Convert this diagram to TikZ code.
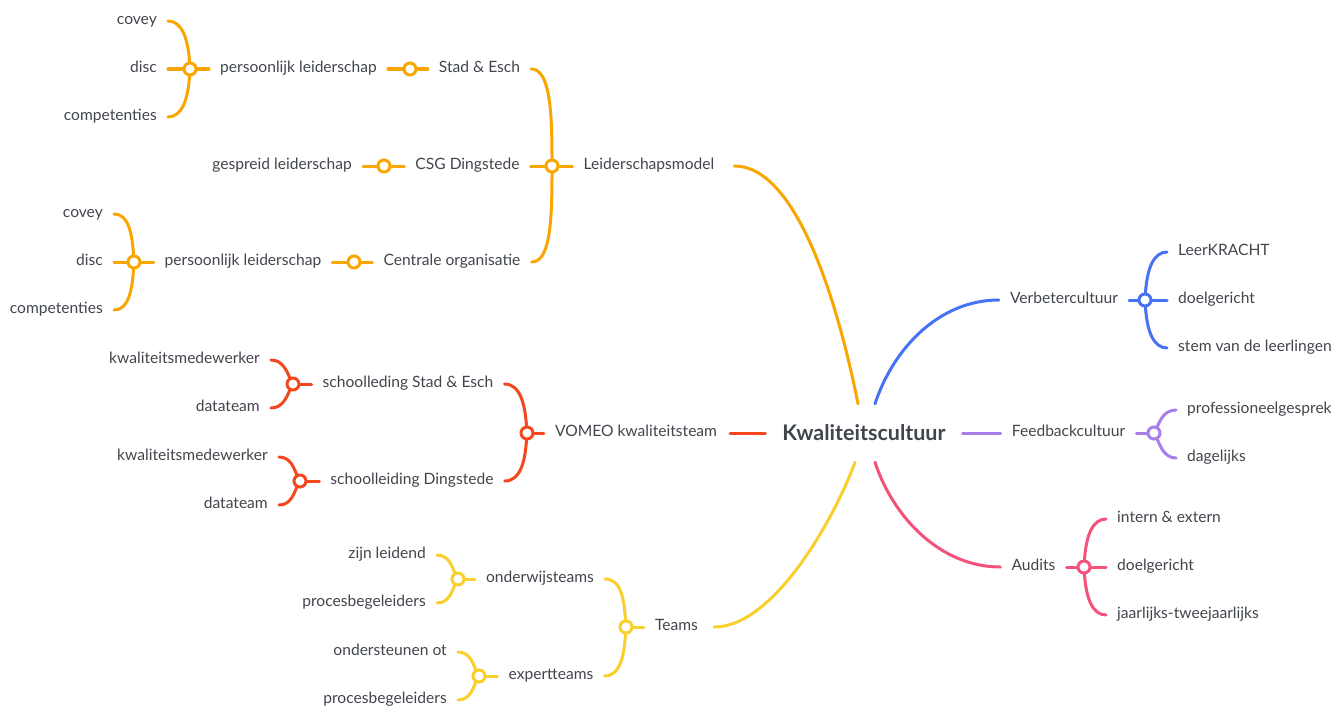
\documentclass[tikz,border=0pt]{standalone}
\usepackage{fontspec}
\setmainfont{Lato}
\definecolor{txtc}{HTML}{41464D}
\definecolor{cor}{HTML}{FAA602}
\definecolor{cred}{HTML}{F5471E}
\definecolor{cyel}{HTML}{F9CF2E}
\definecolor{cblu}{HTML}{4672F5}
\definecolor{cpur}{HTML}{A77EEB}
\definecolor{cpnk}{HTML}{F4527B}
\tikzset{
  txt/.style={text=txtc, font=\fontsize{15.6}{17}\selectfont, inner xsep=11pt, inner ysep=0pt, text height=10.5pt, text depth=3pt},
  rootnode/.style={text=txtc, font=\fontsize{21.5}{23}\bfseries\selectfont, minimum width=197pt, minimum height=58pt, inner sep=0pt},
  jc/.style={circle, draw=#1, fill=white, line width=3pt, minimum size=12pt, inner sep=0pt},
  ln/.style={draw=#1, line width=3pt, line cap=round},
}
\begin{document}
\begin{tikzpicture}[x=1pt,y=-1pt]
\useasboundingbox[fill=white] (0,0) rectangle (1335,709);
% root
\node[rootnode] (root) at (864,433) {Kwaliteitscultuur};
% ---------- orange ----------
\node[txt, anchor=east] (c1) at (168,21) {covey};
\node[txt, anchor=east] (c2) at (168,69) {disc};
\node[txt, anchor=east] (c3) at (168,117) {competenties};
\node[jc=cor] (ja1) at (190,69) {};
\node[txt] (pl1) at (298.5,69) {persoonlijk leiderschap};
\node[jc=cor] (ja2) at (410,69) {};
\node[txt] (stad) at (479.5,69) {Stad \& Esch};
\node[txt, anchor=east] (gl) at (363,166) {gespreid leiderschap};
\node[jc=cor] (jb) at (384,166) {};
\node[txt] (csg) at (467.5,166) {CSG Dingstede};
\node[jc=cor] (jl) at (552,166) {};
\node[txt] (lm) at (649,166) {Leiderschapsmodel};
\node[txt, anchor=east] (c4) at (114,214) {covey};
\node[txt, anchor=east] (c5) at (114,262) {disc};
\node[txt, anchor=east] (c6) at (114,310) {competenties};
\node[jc=cor] (jc1) at (134,262) {};
\node[txt] (pl2) at (243,262) {persoonlijk leiderschap};
\node[jc=cor] (jc2) at (354,262) {};
\node[txt] (co) at (452,262) {Centrale organisatie};
\begin{scope}[ln=cor]
\draw (c1.east) .. controls +(14,0) and +(-2,-30) .. (ja1);
\draw (c3.east) .. controls +(14,0) and +(-2,30) .. (ja1);
\draw (c2.east) -- (ja1) -- (pl1.west);
\draw (pl1.east) -- (ja2) -- (stad.west);
\draw (gl.east) -- (jb) -- (csg.west);
\draw (c4.east) .. controls +(14,0) and +(-2,-30) .. (jc1);
\draw (c6.east) .. controls +(14,0) and +(-2,30) .. (jc1);
\draw (c5.east) -- (jc1) -- (pl2.west);
\draw (pl2.east) -- (jc2) -- (co.west);
\draw (stad.east) .. controls +(18,0) and +(0,-58) .. (jl);
\draw (co.east) .. controls +(18,0) and +(0,58) .. (jl);
\draw (csg.east) -- (jl) -- (lm.west);
\draw ([xshift=9pt]lm.east) .. controls +(60,0) and +(-22,-110) .. ([xshift=-6pt]root.north);
\end{scope}
% ---------- red ----------
\node[txt, anchor=east] (k1) at (271,360) {kwaliteitsmedewerker};
\node[txt, anchor=east] (d1) at (271,408) {datateam};
\node[jc=cred] (jr1) at (293,384) {};
\node[txt] (ss) at (408,384) {schoolleding Stad \& Esch};
\node[txt, anchor=east] (k2) at (279,457) {kwaliteitsmedewerker};
\node[txt, anchor=east] (d2) at (279,505) {datateam};
\node[jc=cred] (jr2) at (300,481) {};
\node[txt] (sd) at (412,481) {schoolleiding Dingstede};
\node[jc=cred] (jr) at (527,433) {};
\node[txt] (vomeo) at (636,433) {VOMEO kwaliteitsteam};
\begin{scope}[ln=cred]
\draw (k1.east) .. controls +(12,0) and +(-6,-12) .. (jr1);
\draw (d1.east) .. controls +(12,0) and +(-6,12) .. (jr1);
\draw (jr1) -- (ss.west);
\draw (k2.east) .. controls +(12,0) and +(-6,-12) .. (jr2);
\draw (d2.east) .. controls +(12,0) and +(-6,12) .. (jr2);
\draw (jr2) -- (sd.west);
\draw (ss.east) .. controls +(16,0) and +(-2,-28) .. (jr);
\draw (sd.east) .. controls +(16,0) and +(-2,28) .. (jr);
\draw (jr) -- (vomeo.west);
\draw ([xshift=2pt]vomeo.east) -- (root.west);
\end{scope}
% ---------- yellow ----------
\node[txt, anchor=east] (zl) at (437,555) {zijn leidend};
\node[txt, anchor=east] (pb1) at (437,603) {procesbegeleiders};
\node[jc=cyel] (jy1) at (458,579) {};
\node[txt] (ow) at (540,579) {onderwijsteams};
\node[txt, anchor=east] (ost) at (458,652) {ondersteunen ot};
\node[txt, anchor=east] (pb2) at (458,700) {procesbegeleiders};
\node[jc=cyel] (jy2) at (479,676) {};
\node[txt] (et) at (551,676) {expertteams};
\node[jc=cyel] (jy) at (626,627) {};
\node[txt] (teams) at (676.5,627) {Teams};
\begin{scope}[ln=cyel]
\draw (zl.east) .. controls +(12,0) and +(-6,-12) .. (jy1);
\draw (pb1.east) .. controls +(12,0) and +(-6,12) .. (jy1);
\draw (jy1) -- (ow.west);
\draw (ost.east) .. controls +(12,0) and +(-6,-12) .. (jy2);
\draw (pb2.east) .. controls +(12,0) and +(-6,12) .. (jy2);
\draw (jy2) -- (et.west);
\draw (ow.east) .. controls +(16,0) and +(-2,-28) .. (jy);
\draw (et.east) .. controls +(16,0) and +(-2,28) .. (jy);
\draw (jy) -- (teams.west);
\draw ([xshift=5pt]teams.east) .. controls +(60,0) and +(-20,55) .. ([xshift=-9pt]root.south);
\end{scope}
% ---------- blue ----------
\node[txt] (vc) at (1064,300) {Verbetercultuur};
\node[jc=cblu] (jv) at (1145,300) {};
\node[txt, anchor=west] (lk) at (1167,252) {LeerKRACHT};
\node[txt, anchor=west] (dg) at (1167,300) {doelgericht};
\node[txt, anchor=west] (st) at (1167,348) {stem van de leerlingen};
\begin{scope}[ln=cblu]
\draw ([xshift=11pt]root.north) .. controls +(18,-55) and +(-60,0) .. (vc.west);
\draw (vc.east) -- (jv) -- (dg.west);
\draw (jv) .. controls +(2,-30) and +(-14,0) .. (lk.west);
\draw (jv) .. controls +(2,30) and +(-14,0) .. (st.west);
\end{scope}
% ---------- purple ----------
\node[txt] (fc) at (1068.5,433) {Feedbackcultuur};
\node[jc=cpur] (jf) at (1154,433) {};
\node[txt, anchor=west] (pg) at (1176,410) {professioneelgesprek};
\node[txt, anchor=west] (dl) at (1176,458) {dagelijks};
\begin{scope}[ln=cpur]
\draw (root.east) -- (fc.west);
\draw (fc.east) -- (jf);
\draw (jf) .. controls +(6,-12) and +(-12,0) .. (pg.west);
\draw (jf) .. controls +(6,12) and +(-12,0) .. (dl.west);
\end{scope}
% ---------- pink ----------
\node[txt] (au) at (1033.5,567) {Audits};
\node[jc=cpnk] (jau) at (1084,567) {};
\node[txt, anchor=west] (ie) at (1106,519) {intern \& extern};
\node[txt, anchor=west] (dg2) at (1106,567) {doelgericht};
\node[txt, anchor=west] (jt) at (1106,615) {jaarlijks-tweejaarlijks};
\begin{scope}[ln=cpnk]
\draw ([xshift=11pt]root.south) .. controls +(18,55) and +(-60,0) .. (au.west);
\draw (au.east) -- (jau) -- (dg2.west);
\draw (jau) .. controls +(2,-30) and +(-14,0) .. (ie.west);
\draw (jau) .. controls +(2,30) and +(-14,0) .. (jt.west);
\end{scope}
\end{tikzpicture}
\end{document}
